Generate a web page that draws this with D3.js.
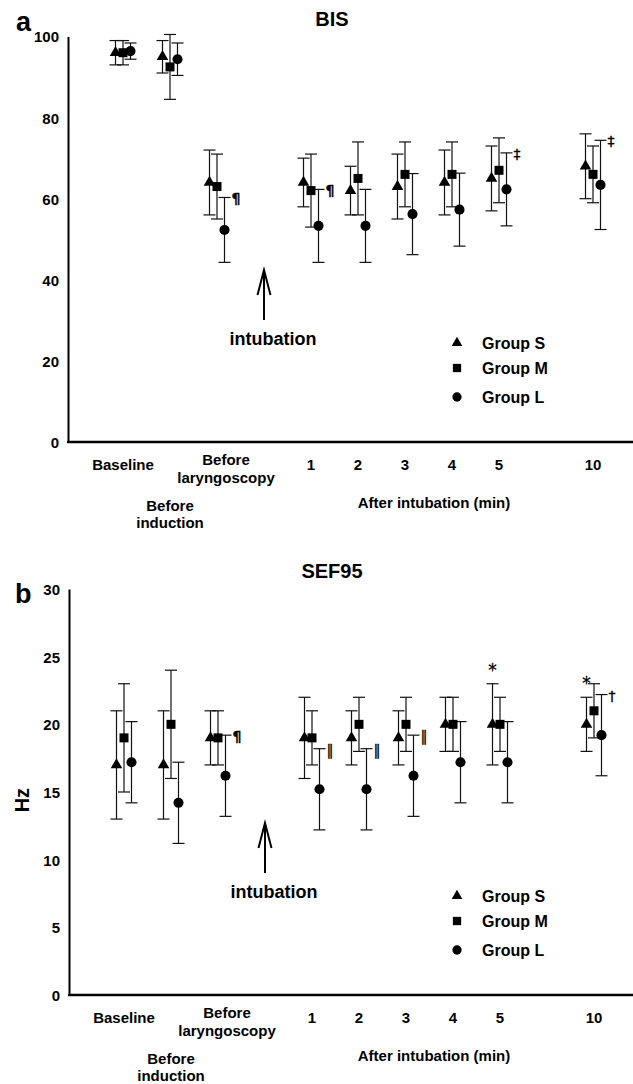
<!DOCTYPE html>
<html>
<head>
<meta charset="utf-8">
<script src="https://cdn.jsdelivr.net/npm/d3@7"></script>
<style>
    body { margin: 0; background: #fff; }
    svg text { font-family: "Liberation Sans", Arial, sans-serif; font-weight: bold; fill: #000; }
    svg text.note { font-family: "DejaVu Sans", sans-serif; font-weight: normal; stroke: #000; stroke-width: 0.3; }
</style>
</head>
<body>
<div id="chart"></div>
<script>

// categories along the x axis (slots include the intubation gap and the 6-9 min gap)
var categories = ["Baseline", "Before induction", "Before laryngoscopy", "1", "2", "3", "4", "5", "10"];
var slots = ["Baseline", "Before induction", "Before laryngoscopy", "intubation", "1", "2", "3", "4", "5", "gap", "10"];
var groups = ["Group S", "Group M", "Group L"];

// BIS, mean and SD
var bisMeanS = [96, 95, 64, 64, 62, 63, 64, 65, 68];
var bisSdS   = [3, 4, 8, 6, 6, 8, 8, 8, 8];
var bisMeanM = [96, 92.5, 63, 62, 65, 66, 66, 67, 66];
var bisSdM   = [3, 8, 8, 9, 9, 8, 8, 8, 7];
var bisMeanL = [96.4, 94.4, 52.3, 53.3, 53.3, 56.2, 57.3, 62.3, 63.4];
var bisSdL   = [2, 4, 8, 9, 9, 10, 9, 9, 11];
var bisTicks = [0, 20, 40, 60, 80, 100];

// SEF95 (Hz), mean and SD
var sefMeanS = [17, 17, 19, 19, 19, 19, 20, 20, 20];
var sefSdS   = [4, 4, 2, 3, 2, 2, 2, 3, 2];
var sefMeanM = [19, 20, 19, 19, 20, 20, 20, 20, 21];
var sefSdM   = [4, 4, 2, 2, 2, 2, 2, 2, 2];
var sefMeanL = [17.2, 14.2, 16.2, 15.2, 15.2, 16.2, 17.2, 17.2, 19.2];
var sefSdL   = [3, 3, 3, 3, 3, 3, 3, 3, 3];
var sefTicks = [0, 5, 10, 15, 20, 25, 30];

// significance marks: category, group, symbol
var bisNotes = [
    { cat: "Before laryngoscopy", group: "Group L", mark: "¶" },
    { cat: "1", group: "Group L", mark: "¶" },
    { cat: "5", group: "Group L", mark: "‡" },
    { cat: "10", group: "Group L", mark: "‡" }
];
var sefNotes = [
    { cat: "Before laryngoscopy", group: "Group L", mark: "¶" },
    { cat: "1", group: "Group L", mark: "‖" },
    { cat: "2", group: "Group L", mark: "‖" },
    { cat: "3", group: "Group L", mark: "‖" },
    { cat: "5", group: "Group S", mark: "*" },
    { cat: "10", group: "Group S", mark: "*" },
    { cat: "10", group: "Group L", mark: "†" }
];

var svg = d3.select("#chart")
    .append("svg")
        .attr("width", 633)
        .attr("height", 1084);

var symbolType = d3.scaleOrdinal()
    .domain(groups)
    .range([d3.symbolTriangle, d3.symbolSquare, d3.symbolCircle]);
var symbolSize = d3.scaleOrdinal()
    .domain(groups)
    .range([58, 81, 80]);

var drawPanel = function(p) {

    var g = svg.append("g");

    var y = d3.scaleLinear()
        .domain([0, p.yMax])
        .range([p.bottom, p.top]);

    var x = d3.scalePoint()
        .domain(slots)
        .range([123 + p.shift, 593 + p.shift]);

    var offset = d3.scalePoint()
        .domain(groups)
        .range([-7.5, 7.5]);

    /* y axis: labels only, no tick marks */
    g.append("g")
        .attr("transform", "translate(" + p.axisX + ",0)")
        .call(d3.axisLeft(y).tickValues(p.ticks).tickSize(0).tickPadding(9))
        .call(function(a) {
            a.attr("font-family", null).attr("font-size", 15);
            a.select(".domain").attr("stroke", "#000").attr("stroke-width", 2);
            a.selectAll("text").attr("dy", "0.36em");
        });

    /* x axis line */
    g.append("line")
        .attr("x1", p.axisX - 1).attr("x2", 633)
        .attr("y1", y(0)).attr("y2", y(0))
        .attr("stroke", "#000")
        .attr("stroke-width", 2.5);

    /* title and panel letter */
    g.append("text")
        .attr("x", 332).attr("y", p.top - 11)
        .attr("text-anchor", "middle")
        .attr("font-size", 20)
        .text(p.title);
    g.append("text")
        .attr("x", p.letterX).attr("y", p.letterY)
        .attr("font-size", 27)
        .text(p.letter);

    if (p.yLabel) {
        g.append("text")
            .attr("transform", "translate(29," + y(p.yMax * 0.48) + ") rotate(-90)")
            .attr("text-anchor", "middle")
            .attr("font-size", 20)
            .text(p.yLabel);
    }

    /* category labels */
    var labels = g.append("g").attr("font-size", 15).attr("text-anchor", "middle");
    categories.forEach(function(c, i) {
        var words = c.split(" ");
        var cx = x(c);
        if (c == "Before induction") {
            labels.append("text").attr("x", cx).attr("y", y(0) + 69).text(words[0]);
            labels.append("text").attr("x", cx).attr("y", y(0) + 86).text(words[1]);
        } else if (c == "Before laryngoscopy") {
            labels.append("text").attr("x", cx + 9).attr("y", y(0) + 23).text(words[0]);
            labels.append("text").attr("x", cx + 9).attr("y", y(0) + 41).text(words[1]);
        } else {
            labels.append("text").attr("x", cx).attr("y", y(0) + 28).text(c);
        }
    });
    labels.append("text")
        .attr("x", 434).attr("y", y(0) + 66)
        .text("After intubation (min)");

    /* intubation arrow */
    var ax = x("intubation");
    var tip = y(0) - 172;
    g.append("path")
        .attr("d", "M" + ax + "," + (y(0) - 122) + "V" + tip +
                   "M" + (ax - 6.5) + "," + (tip + 25) + "L" + ax + "," + tip + "L" + (ax + 6.5) + "," + (tip + 25))
        .attr("fill", "none")
        .attr("stroke", "#000")
        .attr("stroke-width", 2);
    g.append("text")
        .attr("x", ax + 9).attr("y", y(0) - 97)
        .attr("text-anchor", "middle")
        .attr("font-size", 18)
        .text("intubation");

    /* error bars then markers */
    var rows = [];
    p.series.forEach(function(s, gi) {
        categories.forEach(function(c, i) {
            rows.push({ cat: c, group: groups[gi], mean: s.mean[i], sd: s.sd[i] });
        });
    });

    var bars = g.append("g")
        .attr("stroke", "#111")
        .attr("stroke-width", 1.2)
        .selectAll("g")
        .data(rows)
        .enter().append("g")
            .attr("transform", function(d) { return "translate(" + (x(d.cat) + offset(d.group)) + ",0)"; });
    bars.append("line")
        .attr("y1", function(d) { return y(d.mean - d.sd); })
        .attr("y2", function(d) { return y(d.mean + d.sd); });
    bars.append("line")
        .attr("x1", -6).attr("x2", 6)
        .attr("y1", function(d) { return y(d.mean + d.sd); })
        .attr("y2", function(d) { return y(d.mean + d.sd); });
    bars.append("line")
        .attr("x1", -6).attr("x2", 6)
        .attr("y1", function(d) { return y(d.mean - d.sd); })
        .attr("y2", function(d) { return y(d.mean - d.sd); });

    g.append("g")
        .selectAll("path")
        .data(rows)
        .enter().append("path")
            .attr("d", function(d) { return d3.symbol().type(symbolType(d.group)).size(symbolSize(d.group))(); })
            .attr("transform", function(d) { return "translate(" + (x(d.cat) + offset(d.group)) + "," + y(d.mean) + ")"; })
            .attr("fill", "#000");

    /* significance marks */
    p.notes.forEach(function(n) {
        var gi = groups.indexOf(n.group);
        var ci = categories.indexOf(n.cat);
        var top = p.series[gi].mean[ci] + p.series[gi].sd[ci];
        var nx = x(n.cat) + offset(n.group);
        if (n.mark == "*") {
            g.append("text")
                .attr("class", "note")
                .attr("transform", "translate(" + nx + "," + (y(top) - 8) + ") rotate(0.01)")
                .attr("text-anchor", "middle")
                .attr("font-size", 17)
                .text(n.mark);
        } else {
            g.append("text")
                .attr("class", "note")
                .attr("transform", "translate(" + (nx + 7) + "," + (y(top) + 6) + ") rotate(0.01)")
                .attr("font-size", 14)
                .style("font-weight", n.mark == "¶" ? "bold" : "normal")
                .text(n.mark);
        }
    });

    /* legend */
    var legendY = [99, 74, 45];
    var legend = g.append("g")
        .selectAll("g")
        .data(groups)
        .enter().append("g")
            .attr("transform", function(d, i) { return "translate(457," + (y(0) - legendY[i]) + ")"; });
    legend.append("path")
        .attr("d", function(d) { return d3.symbol().type(symbolType(d)).size(symbolSize(d) * 0.85)(); })
        .attr("fill", "#000");
    legend.append("text")
        .attr("x", 25)
        .attr("dy", "0.36em")
        .attr("font-size", 16)
        .text(function(d) { return d; });
}

drawPanel({
    letter: "a", letterX: 16, letterY: 31,
    title: "BIS", top: 36.5, bottom: 442, axisX: 68, shift: 0,
    yMax: 100, ticks: bisTicks, yLabel: null,
    series: [
        { mean: bisMeanS, sd: bisSdS },
        { mean: bisMeanM, sd: bisSdM },
        { mean: bisMeanL, sd: bisSdL }
    ],
    notes: bisNotes
});

drawPanel({
    letter: "b", letterX: 15, letterY: 603,
    title: "SEF95", top: 589, bottom: 995, axisX: 69, shift: 1,
    yMax: 30, ticks: sefTicks, yLabel: "Hz",
    series: [
        { mean: sefMeanS, sd: sefSdS },
        { mean: sefMeanM, sd: sefSdM },
        { mean: sefMeanL, sd: sefSdL }
    ],
    notes: sefNotes
});

</script>
</body>
</html>
